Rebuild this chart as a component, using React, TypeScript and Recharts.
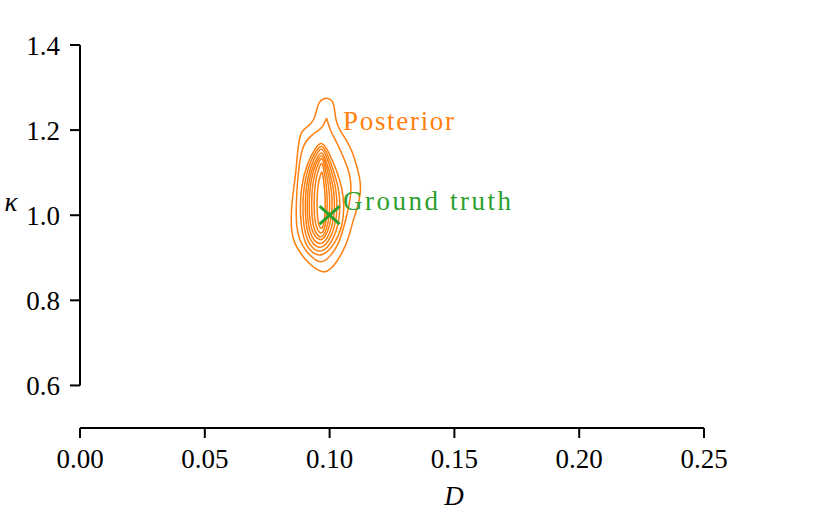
import React from 'react';
import { ScatterChart, Scatter, XAxis, YAxis, ReferenceLine } from 'recharts';

const D_TICKS = [0, 0.05, 0.1, 0.15, 0.2, 0.25];
const KAPPA_TICKS = [0.6, 0.8, 1.0, 1.2, 1.4];
const GROUND_TRUTH = [[0.1, 1.0]];

const LEVEL_1 = [
  [0.0992, 1.2753], [0.1012, 1.2706], [0.102, 1.2518], [0.1024, 1.2235], [0.104, 1.2],
  [0.1068, 1.1765], [0.1092, 1.1482], [0.1108, 1.1176], [0.1122, 1.0871], [0.1126, 1.0541],
  [0.1112, 1.0188], [0.1092, 0.9835], [0.1076, 0.9459], [0.1052, 0.9129], [0.1028, 0.8894],
  [0.1004, 0.8729], [0.098, 0.8645], [0.0952, 0.8706], [0.092, 0.8847], [0.0888, 0.9059],
  [0.0858, 0.9341], [0.0846, 0.9647], [0.0846, 1.0], [0.085, 1.0353], [0.0858, 1.0706],
  [0.0866, 1.1059], [0.087, 1.1412], [0.0878, 1.1765], [0.0886, 1.1976], [0.0916, 1.2094],
  [0.094, 1.2259], [0.0948, 1.2471], [0.0956, 1.2659], [0.0976, 1.2745],
];
const LEVEL_2 = [
  [0.0988, 1.2282], [0.0988, 1.2282], [0.0988, 1.2282], [0.0996, 1.2118], [0.1008, 1.1929],
  [0.1028, 1.1718], [0.1052, 1.1412], [0.1072, 1.1129], [0.1086, 1.0824], [0.1086, 1.0471],
  [0.1072, 1.0071], [0.1056, 0.9694], [0.1036, 0.9318], [0.1004, 0.9035], [0.0972, 0.888],
  [0.0944, 0.8935], [0.0908, 0.9129], [0.0878, 0.9412], [0.0866, 0.9765], [0.0866, 1.0235],
  [0.087, 1.0706], [0.0878, 1.1176], [0.0888, 1.1529], [0.0904, 1.1741], [0.0932, 1.1906],
  [0.096, 1.2], [0.0976, 1.2118],
];
const LEVEL_3 = [
  [0.097, 1.1753], [0.0997, 1.1478], [0.1028, 1.1065], [0.105, 1.0652], [0.1059, 1.0239],
  [0.1053, 0.9771], [0.1023, 0.933], [0.097, 0.9], [0.0921, 0.9138], [0.0892, 0.9468],
  [0.0881, 1.0046], [0.0885, 1.0652], [0.0908, 1.1202], [0.0943, 1.1588],
];
const LEVEL_4 = [
  [0.097, 1.1682], [0.0992, 1.1423], [0.1017, 1.1035], [0.1036, 1.0647], [0.1043, 1.0259],
  [0.1038, 0.9819], [0.1014, 0.9405], [0.097, 0.9094], [0.0927, 0.9223], [0.0901, 0.9534],
  [0.0891, 1.0077], [0.0895, 1.0647], [0.0915, 1.1164], [0.0946, 1.1527],
];
const LEVEL_5 = [
  [0.097, 1.1612], [0.0988, 1.137], [0.101, 1.1006], [0.1025, 1.0642], [0.1031, 1.0279],
  [0.1027, 0.9867], [0.1007, 0.9479], [0.097, 0.9188], [0.0932, 0.9309], [0.0909, 0.96],
  [0.0901, 1.0109], [0.0904, 1.0642], [0.0922, 1.1127], [0.0949, 1.1467],
];
const LEVEL_6 = [
  [0.097, 1.1518], [0.0985, 1.1294], [0.1003, 1.0959], [0.1016, 1.0624], [0.1021, 1.0288],
  [0.1017, 0.9908], [0.1001, 0.955], [0.097, 0.9282], [0.0936, 0.9394], [0.0916, 0.9662],
  [0.0909, 1.0132], [0.0912, 1.0624], [0.0927, 1.1071], [0.0952, 1.1384],
];
const LEVEL_7 = [
  [0.097, 1.1447], [0.0982, 1.124], [0.0997, 1.0929], [0.1007, 1.0619], [0.1011, 1.0308],
  [0.1008, 0.9956], [0.0995, 0.9625], [0.097, 0.9376], [0.0941, 0.948], [0.0923, 0.9728],
  [0.0917, 1.0163], [0.092, 1.0619], [0.0933, 1.1033], [0.0954, 1.1323],
];
const LEVEL_8 = [
  [0.097, 1.1376], [0.0979, 1.1183], [0.099, 1.0894], [0.0998, 1.0604], [0.1001, 1.0315],
  [0.0999, 0.9987], [0.0989, 0.9678], [0.097, 0.9447], [0.0946, 0.9543], [0.0932, 0.9775],
  [0.0927, 1.018], [0.0929, 1.0604], [0.094, 1.099], [0.0957, 1.126],
];
const LEVEL_9 = [
  [0.097, 1.1259], [0.0976, 1.1087], [0.0984, 1.0829], [0.0989, 1.0572], [0.0991, 1.0314],
  [0.0989, 1.0022], [0.0983, 0.9747], [0.097, 0.9541], [0.0952, 0.9627], [0.0941, 0.9833],
  [0.0937, 1.0194], [0.0939, 1.0572], [0.0947, 1.0915], [0.096, 1.1156],
];
const LEVEL_10 = [
  [0.097, 1.1047], [0.0974, 1.0908], [0.0978, 1.07], [0.0982, 1.0492], [0.0983, 1.0284],
  [0.0982, 1.0048], [0.0978, 0.9826], [0.097, 0.9659], [0.0958, 0.9728], [0.0952, 0.9895],
  [0.0949, 1.0186], [0.095, 1.0492], [0.0955, 1.0769], [0.0964, 1.0964],
];

const LEVELS = [LEVEL_1, LEVEL_2, LEVEL_3, LEVEL_4, LEVEL_5, LEVEL_6, LEVEL_7, LEVEL_8, LEVEL_9, LEVEL_10];

const ORANGE = '#ff7f0e';
const GREEN = '#2ca02c';
const FONT = '"Liberation Serif", "Times New Roman", serif';

const toPts = (arr: number[][]) => arr.map(([x, y]) => ({ x, y }));

const NoDot = () => <g />;

const Cross = (props: any) => {
  const { cx, cy } = props;
  if (cx == null || cy == null) return <g />;
  return (
    <g>
      <line x1={cx - 10} y1={cy - 9} x2={cx + 10} y2={cy + 9} stroke={GREEN} strokeWidth={3} />
      <line x1={cx - 10} y1={cy + 9} x2={cx + 10} y2={cy - 9} stroke={GREEN} strokeWidth={3} />
    </g>
  );
};

export default function App() {
  return (
    <div style={{ position: 'absolute', left: 0, top: 0, width: 831, height: 514, background: '#fff' }}>
      <ScatterChart width={831} height={514} margin={{ top: 45, right: 127, bottom: 0, left: 0 }}>
        <XAxis
          type="number"
          dataKey="x"
          domain={[0, 0.25]}
          ticks={D_TICKS}
          tickFormatter={(v: number) => v.toFixed(2)}
          height={86}
          axisLine={{ stroke: '#000', strokeWidth: 2 }}
          tickLine={{ stroke: '#000', strokeWidth: 2 }}
          tickSize={10}
          tickMargin={11}
          tick={{ fontFamily: FONT, fontSize: 27, fill: '#000' }}
          allowDataOverflow
        />
        <YAxis
          type="number"
          dataKey="y"
          domain={[0.5, 1.4]}
          ticks={KAPPA_TICKS}
          tickFormatter={(v: number) => v.toFixed(1)}
          width={80}
          axisLine={false}
          tickLine={{ stroke: '#000', strokeWidth: 2 }}
          tickSize={10}
          tickMargin={10}
          tick={{ fontFamily: FONT, fontSize: 27, fill: '#000' }}
          allowDataOverflow
        />
        <ReferenceLine
          segment={[{ x: 0, y: 0.6 }, { x: 0, y: 1.4 }]}
          stroke="#000"
          strokeWidth={2}
          ifOverflow="visible"
        />
        {LEVELS.map((lv, i) => (
          <Scatter
            key={i}
            data={toPts(lv)}
            fill={ORANGE}
            line={{ stroke: ORANGE, strokeWidth: 1.5, fill: 'none' }}
            lineType="joint"
            lineJointType="basisClosed"
            shape={NoDot}
            isAnimationActive={false}
          />
        ))}
        <Scatter data={toPts(GROUND_TRUTH)} fill={GREEN} shape={Cross} isAnimationActive={false} />
      </ScatterChart>
      <svg width={831} height={514} style={{ position: 'absolute', left: 0, top: 0, pointerEvents: 'none' }}>
        <text x={454} y={505} textAnchor="middle" fontFamily={FONT} fontStyle="italic" fontSize={27} fill="#000">D</text>
        <text x={11} y={211} textAnchor="middle" fontFamily={FONT} fontStyle="italic" fontSize={27} fill="#000">κ</text>
        <text x={343} y={130} fontFamily={FONT} fontSize={27} fill={ORANGE} textLength={111} lengthAdjust="spacing">Posterior</text>
        <text x={343} y={210} fontFamily={FONT} fontSize={27} fill={GREEN} textLength={168} lengthAdjust="spacing">Ground truth</text>
      </svg>
    </div>
  );
}
